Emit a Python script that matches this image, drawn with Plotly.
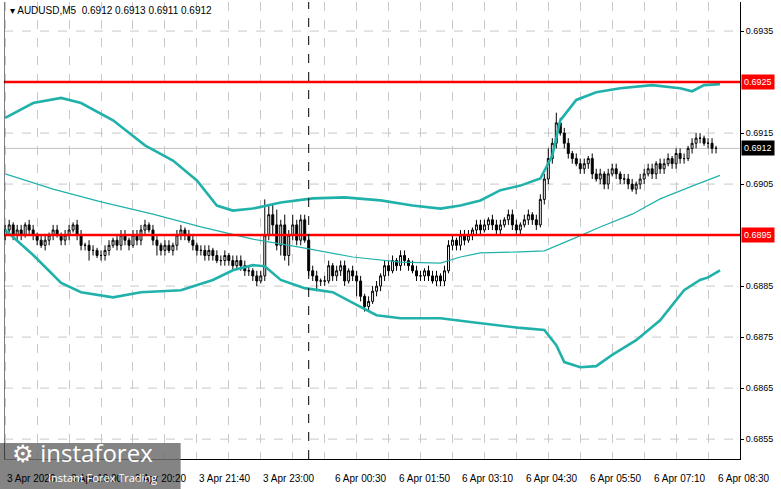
import plotly.graph_objects as go

BASE = 0.68
PIP = 0.0001

# closes in pips above 0.6800, one per 5-minute bar (3 Apr 17:40 ... 6 Apr 08:30)
close_pips = [96,97,95,96,95,97,96,95,94,93,94,95,96,95,94,95,96,97,95,
              93,93,92,92,91,91,92,93,94,93,95,94,93,95,94,96,97,96,94,93,92,93,92,93,95,96,95,
              94,93,92,92,91,92,91,90,90,91,90,89,90,89,88,
              88,87,86,87,95,99,
              97,93,97,91,95,97,94,98,94,
              88,87,86,86,86,89,87,88,89,86,88,87,86,83,81,
              82,84,85,87,89,88,90,89,91,90,89,88,87,87,88,87,86,87,86,88,
              93,94,93,95,94,
              95,96,97,96,97,98,97,96,97,98,99,97,96,97,98,99,98,97,
              102,106,110,113,117,115,113,
              111,110,109,108,109,110,107,106,107,105,
              107,108,107,106,106,105,104,105,106,107,
              108,107,109,108,109,110,109,111,110,110,112,113,114,114,113,113,112,112]
first_open_pips = 95
upper_wick = [1,1,0.5,1,1,0.5,1,1,0.5,1, 1,0.5,1,1,0.5,1,1,0.5,1,1,
              0.5,1,1,0.5,1,1,1,0.5,1,1, 1,0.5,1,1,1,1,0.5,1,1,0.5,
              1,1,0.5,1,1,0.5,1,1,0.5,1, 1,1,0.5,1,1,1,0.5,1,1,1,
              1,1,0.5,1,1,7,2,2,3,1, 2,1,2,1,1,1,0.5,1,1,0.5,
              1,1,0.5,1,1,1,0.5,1,1,1, 0.5,1,1,1,0.5,1,1,1,0.5,1,
              1,0.5,1,1,1,0.5,1,1,1,0.5, 1,1,1,0.5,1,1,1,0.5,1,1,
              1,0.5,1,1,1,0.5,1,1,1,0.5, 1,1,0.5,1,1,1,2,1,2,1,
              1,1,0.5,1,1,1,0.5,1,1,1, 0.5,1,1,1,0.5,1,1,1,0.5,1,
              1,1,1,0.5,1,1,1,0.5,1,1, 1,0.5,1,1,1,0.5,1,1,0.5]
lower_wick = [1,0.5,1,1,1,0.5,1,1,1,0.5, 1,1,1,0.5,1,1,1,0.5,1,1,
              1,2,1,0.5,1,1,1,0.5,1,1, 1,1,0.5,1,1,1,0.5,1,2,1,
              1,0.5,1,1,1,1,0.5,1,1,1, 1,1,1,0.5,1,1,1,1,0.5,1,
              1,1,1,1,0.5,1,1,2,1,2, 1,2,1,1,1,0.5,1,1,2,1,
              1,0.5,1,1,1,1,0.5,1,3,1, 1,1,0.5,1,1,1,1,0.5,1,1,
              1,1,0.5,1,1,1,1,0.5,1,1, 1,0.5,1,1,1,1,0.5,1,1,1,
              0.5,1,1,1,1,0.5,1,1,1,1, 0.5,1,1,1,0.5,1,1,1,1,0.5,
              1,1,1,0.5,1,1,1,1,0.5,1, 1,1,0.5,1,1,1,1,0.5,1,1,
              1,0.5,1,1,1,1,0.5,1,1,1, 1,0.5,1,1,1,0.5,1,1,1]

# Bollinger bands (bar index, pips)
upper_idx = [0,7,14,19,27,35,42,48,53,57,62,69,77,85,94,102,109,114,119,124,129,134,137,139,143,148,154,162,169,172,175,179]
upper_pips = [118.0,120.9,121.9,120.9,117.5,112.6,109.6,105.7,100.8,99.8,100.2,101.4,102.2,102.4,101.8,100.8,100.2,100.8,101.8,103.8,104.7,106.1,110.6,117.5,121.5,123.0,123.8,124.4,123.8,123.2,124.4,124.6]
lower_idx = [0,7,14,19,27,34,44,52,57,62,65,69,75,82,88,93,99,109,117,124,129,135,138,140,144,148,152,158,164,170,174,176,179]
lower_pips = [96.0,91.1,85.6,83.8,82.8,83.8,84.2,86.2,88.1,89.1,88.9,86.2,84.6,83.8,81.3,79.3,78.7,78.7,77.9,77.2,76.8,76.4,73.4,70.1,69.1,69.3,71.5,74.4,78.3,84.2,86.2,86.7,88.1]
mid_idx = [0,12,24,37,49,62,74,87,99,109,114,119,129,135,142,149,157,164,172,179]
mid_pips = [107.0,104.0,101.5,99.1,96.6,94.2,92.6,90.7,89.7,89.5,90.7,91.5,91.7,91.9,94.2,96.6,99.1,102.1,104.6,106.7]

tick_idx = [0,16,32,48,64,82,98,114,130,146,162,178]
tick_text = ["3 Apr 2026","3 Apr 19:00","3 Apr 20:20","3 Apr 21:40","3 Apr 23:00","6 Apr 00:30",
             "6 Apr 01:50","6 Apr 03:10","6 Apr 04:30","6 Apr 05:50","6 Apr 07:10","6 Apr 08:30"]
y_ticks = [0.6855,0.6865,0.6875,0.6885,0.6905,0.6915,0.6935]
levels = [0.6925, 0.6895]
last_price = 0.6912
separator_idx = 76

FONT = "Liberation Sans"
p = lambda v: round(BASE + v * PIP, 5)
closes = [p(v) for v in close_pips]
opens = [p(first_open_pips)] + closes[:-1]
highs = [round(max(o, c) + w * PIP, 5) for o, c, w in zip(opens, closes, upper_wick)]
lows = [round(min(o, c) - w * PIP, 5) for o, c, w in zip(opens, closes, lower_wick)]
idx = list(range(len(closes)))

teal = "#20B2AA"
fig = go.Figure()
for g in [0.6855 + 0.001 * k for k in range(9)]:
    fig.add_hline(y=g, line=dict(color="#C8C8C8", width=1, dash="dash"), layer="below")
fig.add_trace(go.Scatter(x=upper_idx, y=[p(v) for v in upper_pips], mode="lines", line=dict(color=teal, width=2.6), hoverinfo="skip"))
fig.add_trace(go.Scatter(x=lower_idx, y=[p(v) for v in lower_pips], mode="lines", line=dict(color=teal, width=2.6), hoverinfo="skip"))
fig.add_trace(go.Scatter(x=mid_idx, y=[p(v) for v in mid_pips], mode="lines", line=dict(color=teal, width=1.2), hoverinfo="skip"))
fig.add_trace(go.Candlestick(x=idx, open=opens, high=highs, low=lows, close=closes,
                             increasing=dict(fillcolor="white", line=dict(color="black", width=1)),
                             decreasing=dict(fillcolor="black", line=dict(color="black", width=1)),
                             whiskerwidth=0))

fig.add_hline(y=last_price, line=dict(color="#C0C0C0", width=1), layer="below")
for lv in levels:
    fig.add_hline(y=lv, line=dict(color="#FF0000", width=2.5))
fig.add_vline(x=separator_idx, line=dict(color="black", width=1, dash="dash"))
fig.add_shape(type="rect", xref="paper", yref="paper", x0=-0.006, x1=0.24, y0=-0.07, y1=0.035,
              fillcolor="rgba(110,110,110,0.85)", line=dict(width=0), layer="above")

ann = []
for i, t in zip(tick_idx, tick_text):
    ann.append(dict(x=i, y=0, xref="x", yref="paper", text=t, showarrow=False, xanchor="left", yanchor="top",
                    yshift=-12, font=dict(size=10, color="black", family=FONT)))
for lv, bg in [(0.6925, "#FF0000"), (0.6895, "#FF0000"), (last_price, "black")]:
    ann.append(dict(x=1, xref="paper", y=lv, yref="y", text=f"{lv:.4f}", showarrow=False, xanchor="left",
                    xshift=1, bgcolor=bg, font=dict(size=9, color="white", family=FONT), borderpad=2))
ann.append(dict(x=0, y=1, xref="paper", yref="paper", xanchor="left", yanchor="top", xshift=4, yshift=-1,
                showarrow=False, text="▾ AUDUSD,M5  0.6912 0.6913 0.6911 0.6912",
                font=dict(size=10, color="black", family=FONT)))
ann.append(dict(x=0, y=0, xref="paper", yref="paper", xanchor="left", yanchor="bottom", xshift=6, yshift=-12,
                showarrow=False, text="⚙ instaforex", font=dict(size=24, color="white", family="Open Sans")))
ann.append(dict(x=0, y=0, xref="paper", yref="paper", xanchor="left", yanchor="bottom", xshift=42, yshift=-28,
                showarrow=False, text="Instant Forex Trading", font=dict(size=11, color="white", family="Open Sans")))

fig.update_layout(
    width=781, height=489, margin=dict(l=4, r=41, t=2, b=30, autoexpand=False),
    paper_bgcolor="white", plot_bgcolor="white", showlegend=False,
    annotations=ann,
    xaxis=dict(range=[-0.3, 184.0], rangeslider=dict(visible=False), showticklabels=False,
               tickvals=list(range(0, 185, 8)), showgrid=True, gridcolor="#C8C8C8", griddash="dash",
               gridwidth=1, zeroline=False, showline=True, linecolor="black"),
    yaxis=dict(range=[0.68511, 0.69407], side="right", tickvals=y_ticks, tickformat=".4f",
               ticks="outside", ticklen=3, tickcolor="black", automargin=False,
               showgrid=False, zeroline=False, showline=True, linecolor="black",
               tickfont=dict(size=9, color="black", family=FONT)),
)
fig.add_vline(x=-0.3, line=dict(color="black", width=1))

fig.write_html("out.html", config={"displayModeBar": False},
               post_script="document.body.style.margin='0';document.body.style.overflow='hidden';")
